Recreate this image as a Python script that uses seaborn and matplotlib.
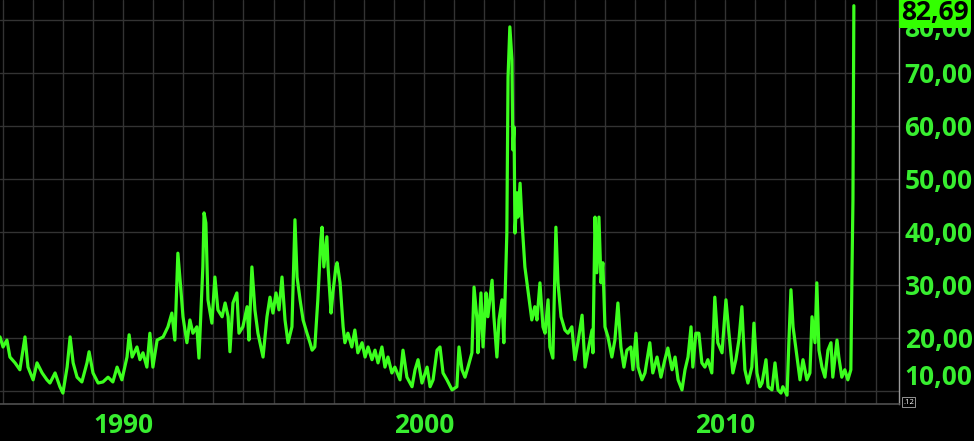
import numpy as np
import pandas as pd
import seaborn as sns
import matplotlib.pyplot as plt
from matplotlib.transforms import ScaledTranslation, blended_transform_factory

# index level, in segments (decimal year, level)
years_a = [1985.91, 1986.01, 1986.14, 1986.24, 1986.41, 1986.57, 1986.74, 1986.84, 1987.01, 1987.14,
           1987.31, 1987.47, 1987.57, 1987.74, 1987.90, 1988.00, 1988.14, 1988.24, 1988.34, 1988.47,
           1988.63, 1988.80, 1988.87, 1989.00, 1989.17, 1989.33, 1989.50, 1989.66, 1989.80, 1989.96,
           1990.13, 1990.20, 1990.30, 1990.46, 1990.56, 1990.66, 1990.79, 1990.89]
levels_a = [20.2, 18.3, 19.6, 16.4, 15.3, 14.0, 20.2, 14.5, 12.1, 15.3,
            13.4, 12.1, 11.5, 13.4, 10.8, 9.6, 14.5, 20.2, 15.3, 12.6,
            11.7, 15.3, 17.4, 13.4, 11.5, 11.7, 12.6, 11.7, 14.5, 12.1,
            16.4, 20.6, 16.4, 18.3, 15.9, 17.2, 14.5, 20.9]

years_b = [1990.99, 1991.13, 1991.33, 1991.49, 1991.62, 1991.72, 1991.82, 1991.92, 1991.99, 1992.12,
           1992.22, 1992.32, 1992.45, 1992.52, 1992.65, 1992.69, 1992.75, 1992.82, 1992.95, 1993.05,
           1993.15, 1993.29, 1993.39, 1993.49, 1993.55, 1993.65, 1993.78, 1993.85, 1993.98, 1994.12,
           1994.18, 1994.28, 1994.38, 1994.48, 1994.65, 1994.78, 1994.88, 1994.98, 1995.08, 1995.18,
           1995.28, 1995.38, 1995.48, 1995.61, 1995.71, 1995.78, 1995.88, 1995.98]
levels_b = [14.5, 19.6, 20.2, 22.1, 24.7, 19.6, 36.0, 29.1, 24.0, 19.1,
            23.4, 20.9, 22.1, 16.2, 33.4, 43.6, 41.7, 27.2, 22.8, 31.5,
            25.3, 24.0, 26.6, 24.0, 17.4, 26.6, 28.5, 20.9, 22.1, 25.9,
            19.6, 33.4, 25.3, 20.9, 16.4, 24.0, 27.7, 24.7, 28.5, 25.3,
            31.5, 23.4, 19.1, 22.1, 42.3, 31.5, 27.2, 23.4]

years_c = [1996.11, 1996.21, 1996.28, 1996.37, 1996.47, 1996.57, 1996.61, 1996.67, 1996.77, 1996.81,
           1996.91, 1996.97, 1997.07, 1997.11, 1997.21, 1997.31, 1997.37, 1997.47, 1997.60, 1997.70,
           1997.80, 1997.94, 1998.04, 1998.14, 1998.27, 1998.37, 1998.47, 1998.60, 1998.70, 1998.80,
           1998.93, 1999.03, 1999.20, 1999.30, 1999.43, 1999.60, 1999.70, 1999.80, 1999.93, 2000.10,
           2000.20, 2000.30, 2000.43, 2000.53, 2000.63, 2000.76, 2000.93]
levels_c = [20.9, 19.1, 17.7, 18.3, 27.2, 38.5, 40.9, 33.4, 39.1, 33.4,
            24.7, 28.5, 33.4, 34.2, 30.4, 22.1, 19.1, 20.9, 18.3, 21.5,
            17.2, 19.1, 16.4, 18.3, 15.9, 17.7, 15.3, 18.3, 14.5, 16.4,
            13.4, 14.5, 12.1, 17.7, 12.6, 10.8, 14.0, 15.9, 11.5, 14.5,
            10.8, 12.1, 17.7, 18.3, 13.4, 12.1, 10.2]

years_d = [2001.09, 2001.16, 2001.26, 2001.36, 2001.46, 2001.59, 2001.66, 2001.76, 2001.79, 2001.89,
           2001.96, 2002.06, 2002.12, 2002.26, 2002.32, 2002.42, 2002.49, 2002.59, 2002.65, 2002.75,
           2002.79, 2002.85, 2002.92, 2002.95, 2002.99, 2003.02, 2003.09, 2003.12, 2003.19, 2003.25,
           2003.35, 2003.45, 2003.58, 2003.68, 2003.75, 2003.85, 2003.95, 2004.02, 2004.12, 2004.18,
           2004.28, 2004.38, 2004.45, 2004.55, 2004.68, 2004.78, 2004.91, 2005.01, 2005.11, 2005.25,
           2005.35, 2005.45, 2005.58, 2005.61, 2005.68, 2005.74, 2005.81, 2005.88]
levels_d = [10.8, 18.3, 14.0, 12.6, 14.5, 17.2, 29.6, 23.4, 17.2, 28.5,
            18.3, 28.5, 24.0, 30.9, 24.0, 16.4, 23.4, 27.2, 19.1, 39.8,
            69.2, 78.7, 72.5, 55.5, 59.8, 39.8, 47.4, 42.8, 49.2, 42.3,
            33.4, 29.1, 23.4, 25.9, 23.4, 30.4, 22.1, 20.9, 27.2, 18.3,
            16.2, 40.9, 30.4, 24.0, 21.5, 20.9, 22.1, 15.9, 19.1, 24.3,
            14.5, 17.7, 21.5, 17.2, 42.8, 32.3, 42.8, 30.4]

years_e = [2005.94, 2006.01, 2006.11, 2006.24, 2006.34, 2006.44, 2006.54, 2006.64, 2006.74, 2006.87,
           2006.94, 2007.04, 2007.11, 2007.24, 2007.34, 2007.50, 2007.60, 2007.74, 2007.87, 2008.00,
           2008.10, 2008.24, 2008.34, 2008.44, 2008.57, 2008.67, 2008.77, 2008.87, 2008.93, 2009.03,
           2009.13, 2009.23, 2009.33, 2009.43, 2009.56, 2009.66, 2009.76, 2009.90, 2010.03, 2010.13,
           2010.26, 2010.36, 2010.46, 2010.56, 2010.66, 2010.76, 2010.89, 2010.96]
levels_e = [34.2, 22.1, 20.2, 16.4, 19.6, 26.6, 18.3, 14.5, 17.7, 18.3,
            14.0, 20.9, 14.5, 12.1, 13.4, 19.1, 13.4, 16.4, 12.6, 15.9,
            18.1, 14.0, 16.4, 12.1, 10.2, 14.0, 16.4, 22.1, 14.5, 20.9,
            20.9, 15.3, 14.5, 15.9, 13.4, 27.7, 19.1, 17.2, 27.2, 20.9,
            13.4, 15.9, 19.6, 25.9, 14.0, 11.5, 14.5, 22.8]

years_f = [2011.06, 2011.16, 2011.23, 2011.36, 2011.43, 2011.56, 2011.66, 2011.76, 2011.86, 2011.92,
           2012.06, 2012.12, 2012.19, 2012.26, 2012.39, 2012.49, 2012.59, 2012.72, 2012.82, 2012.89,
           2012.99, 2013.05, 2013.12, 2013.22, 2013.32, 2013.42, 2013.52, 2013.58, 2013.72, 2013.78,
           2013.88, 2013.98, 2014.08, 2014.18, 2014.22, 2014.25, 2014.27, 2014.28]
levels_f = [13.4, 10.8, 11.5, 15.9, 10.8, 10.2, 15.3, 10.2, 9.6, 10.8,
            9.2, 19.1, 29.1, 22.1, 16.4, 12.1, 15.9, 12.1, 13.4, 24.0,
            19.1, 30.4, 17.7, 14.5, 12.6, 17.7, 19.1, 12.6, 19.6, 16.4,
            12.6, 14.0, 12.1, 14.0, 33.4, 46.0, 70.2, 82.69]

decade_labels = [1990, 2000, 2010]
y_ticks = [10, 20, 30, 40, 50, 60, 70, 80]
last_value = levels_f[-1]

df = pd.DataFrame({
    'year': years_a + years_b + years_c + years_d + years_e + years_f,
    'level': levels_a + levels_b + levels_c + levels_d + levels_e + levels_f,
})

green = '#3cff1e'
label_green = '#38ee30'
grid_grey = '#333333'

sns.set_style('dark', {'axes.facecolor': 'black', 'figure.facecolor': 'black',
                       'axes.grid': True, 'grid.color': grid_grey})
plt.rcParams['font.family'] = ['Open Sans', 'DejaVu Sans']

fig = plt.figure(figsize=(9.74, 4.41), dpi=100)
ax = fig.add_axes([0, 37 / 441, 899 / 974, 404 / 441])

sns.lineplot(data=df, x='year', y='level', color=green, linewidth=2.3, ax=ax, sort=False)

ax.set_xlim(1985.91, 2015.78)
ax.set_ylim(7.54, 83.77)

years_all = list(range(1986, 2016))
ax.set_xticks(years_all)
ax.set_xticklabels([str(y) if y in decade_labels else '' for y in years_all])
ax.set_yticks(y_ticks)
ax.set_yticklabels([f'{v},00' for v in y_ticks])
ax.yaxis.tick_right()
ax.tick_params(axis='both', length=0, colors=label_green, labelsize=19)
ax.tick_params(axis='x', pad=6)
ax.tick_params(axis='y', pad=4)
for lab in ax.get_xticklabels() + ax.get_yticklabels():
    lab.set_fontweight('bold')
ax.grid(True, color=grid_grey, linewidth=1)
ax.set_xlabel('')
ax.set_ylabel('')

for side in ['top', 'left']:
    ax.spines[side].set_visible(False)
ax.spines['right'].set_color('#9a9a9a')
ax.spines['bottom'].set_color('#505050')
ax.spines['right'].set_linewidth(1)
ax.spines['bottom'].set_linewidth(1.2)

# nudge the extreme labels the way the terminal does
ylabs = ax.get_yticklabels()
ylabs[0].set_transform(ylabs[0].get_transform() + ScaledTranslation(0, 16 / 100, fig.dpi_scale_trans))
ylabs[-1].set_transform(ylabs[-1].get_transform() + ScaledTranslation(0, -7 / 100, fig.dpi_scale_trans))

# last value box, kept inside the top edge
trans = blended_transform_factory(ax.transAxes, ax.transData)
ax.annotate(f'{last_value:.2f}'.replace('.', ','), xy=(1.0, last_value), xycoords=trans,
            xytext=(2, -7), textcoords='offset pixels',
            ha='left', va='center', fontsize=19, fontweight='bold', color='black',
            annotation_clip=False, zorder=10,
            bbox=dict(boxstyle='square,pad=0.08', facecolor='#33ff00', edgecolor='none'))

fig.text(903 / 974, 1 - 402 / 441, '.12', fontsize=5.5, color='white', ha='left', va='center',
         bbox=dict(boxstyle='square,pad=0.15', facecolor='black', edgecolor='#aaaaaa', linewidth=0.6))

fig.savefig('out.png', dpi=100, facecolor='black')
